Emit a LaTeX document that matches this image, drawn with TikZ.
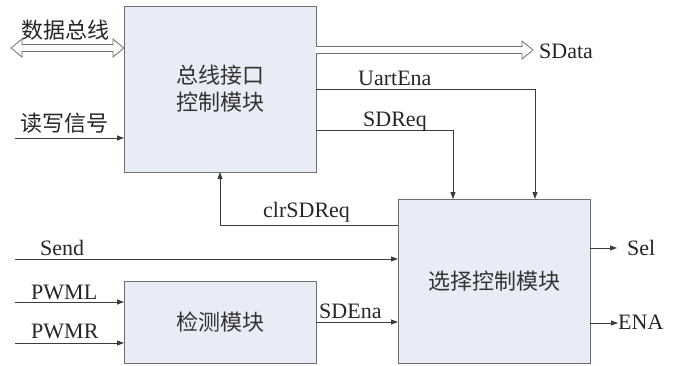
\documentclass[tikz,border=0pt]{standalone}
\usepackage{fontspec}
\setmainfont{Liberation Serif}
\newfontfamily\cjk{Noto Sans CJK SC}
\usetikzlibrary{arrows.meta,calc}
\definecolor{boxfill}{HTML}{E8ECF6}
\definecolor{boxline}{HTML}{6F6F6F}
\definecolor{ln}{HTML}{3C3C3C}
\begin{document}
\begin{tikzpicture}[x=1pt,y=-1pt,
 blk/.style={draw=boxline,fill=boxfill,line width=0.9pt,minimum width=192pt,inner sep=0pt,outer sep=0pt,anchor=north west,font=\cjk\fontsize{22}{27}\selectfont,align=center,text=black!80},
 arr/.style={draw=ln,line width=0.8pt,-{Triangle[length=7pt,width=5pt]}},
 lab/.style={anchor=base west,inner sep=0pt,font=\fontsize{22}{26}\selectfont,text=black!85},
 clab/.style={anchor=west,inner sep=0pt,font=\cjk\fontsize{22}{26}\selectfont,text=black!85},
 fat/.style={draw=boxline,fill=white!90!boxfill,line width=0.8pt,line join=miter}]
\useasboundingbox (0,0) rectangle (677,365);
% blocks
\node[blk,minimum height=166pt] (b1) at (124,6) {总线接口\\控制模块};
\node[blk,minimum height=164pt] (b2) at (398,199) {选择控制模块};
\node[blk,minimum height=82pt] (b3) at (124,281) {检测模块};
% data bus (double-headed fat arrow)
\coordinate (dbL) at (11,48);
\coordinate (dbR) at ([yshift=41pt]b1.west);
\filldraw[fat] (dbL) -- ($(dbL)+(11,-9)$) -- ($(dbL)+(11,-3.5)$) -- ($(dbR)+(-11,-3.5)$)
  -- ($(dbR)+(-11,-9)$) -- (dbR) -- ($(dbR)+(-11,9)$) -- ($(dbR)+(-11,3.5)$)
  -- ($(dbL)+(11,3.5)$) -- ($(dbL)+(11,9)$) -- cycle;
\node[clab] (tdb) at (21,30) {数据总线};
% SData fat arrow
\coordinate (sdA) at ([yshift=39pt]b1.east);
\coordinate (sdB) at (533,50);
\filldraw[fat] ($(sdA)+(0,-3.5)$) -- ($(sdB)+(-11,-3.5)$) -- ($(sdB)+(-11,-9)$) -- (sdB)
  -- ($(sdB)+(-11,9)$) -- ($(sdB)+(-11,3.5)$) -- ($(sdA)+(0,3.5)$);
\node[lab] (tsd) at (539,58) {SData};
% read/write
\coordinate (rwS) at (15,138);
\draw[arr] (rwS) -- (rwS -| b1.west);
\node[clab] (trw) at (20,123) {读写信号};
% UartEna, SDReq
\draw[arr] (b1.east) -| ([xshift=41pt]b2.north);
\node[lab] (tua) at (358,85) {UartEna};
\draw[arr] ([yshift=-41pt]b1.east) -| ([xshift=-41pt]b2.north);
\node[lab] (tsr) at (363,126) {SDReq};
% clrSDReq
\draw[arr] ([yshift=56pt]b2.west) -| (b1.south);
\node[lab] (tclr) at (263,217) {clrSDReq};
% Send
\coordinate (sendS) at (15,259);
\draw[arr] (sendS) -- (sendS -| b2.west);
\node[lab] (tsend) at (40,255) {Send};
% PWML / PWMR
\coordinate (plS) at (15,302);
\draw[arr] (plS) -- (plS -| b3.west);
\node[lab] (tpl) at (31,299) {PWML};
\coordinate (prS) at (15,343);
\draw[arr] (prS) -- (prS -| b3.west);
\node[lab] (tpr) at (31,338) {PWMR};
% SDEna
\draw[arr] (b3.east) -- (b3.east -| b2.west);
\node[lab] (tsde) at (319,318) {SDEna};
% outputs
\coordinate (selE) at (617,248);
\draw[arr] (selE -| b2.east) -- (selE);
\node[lab] (tsel) at (627,255) {Sel};
\coordinate (enaE) at (618,323);
\draw[arr] (enaE -| b2.east) -- (enaE);
\node[lab] (tena) at (618,329) {ENA};
\end{tikzpicture}
\end{document}
